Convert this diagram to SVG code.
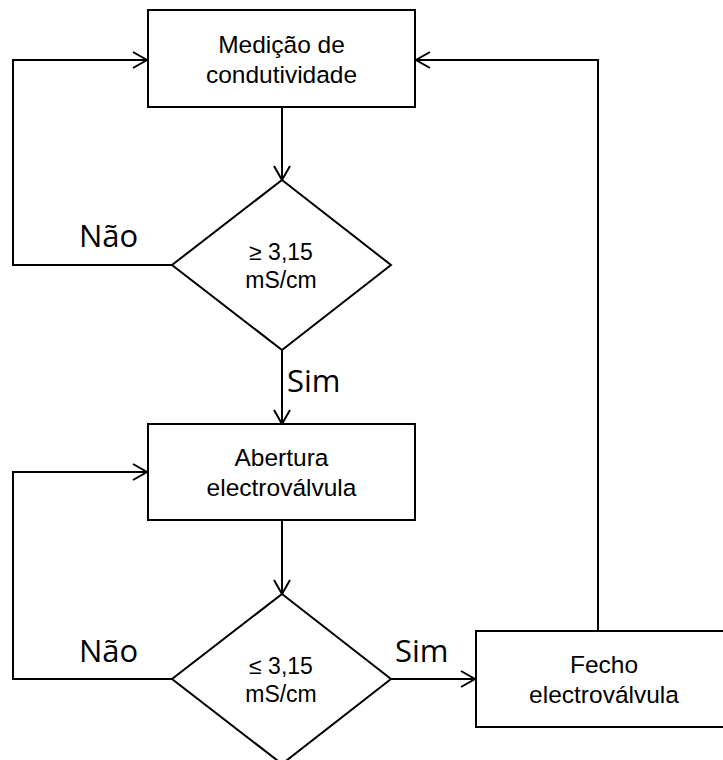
<svg xmlns="http://www.w3.org/2000/svg" width="723" height="760" viewBox="0 0 723 760">
<style>
.shape{fill:#fff;stroke:#000;stroke-width:2}
.conn{fill:none;stroke:#000;stroke-width:2}
.t{font-family:"Liberation Sans",Arial,sans-serif;font-size:24.5px;fill:#000;text-anchor:middle}
.d{font-family:"Liberation Sans",Arial,sans-serif;font-size:23px;fill:#000;text-anchor:middle}
.lbl{font-family:"Open Sans","Noto Sans",sans-serif;font-size:31px;fill:#000}
</style>
<defs>
<marker id="arr" markerUnits="userSpaceOnUse" markerWidth="20" markerHeight="20" refX="15" refY="9" orient="auto">
<polyline points="1,1 15,9 1,17" fill="none" stroke="#000" stroke-width="2"/>
</marker>
</defs>
<g id="connectors">
<line class="conn" x1="282" y1="107" x2="282" y2="180" marker-end="url(#arr)"/>
<line class="conn" x1="282" y1="350" x2="282" y2="424" marker-end="url(#arr)"/>
<line class="conn" x1="282" y1="520" x2="282" y2="594" marker-end="url(#arr)"/>
<line class="conn" x1="391" y1="679" x2="475" y2="679" marker-end="url(#arr)"/>
<polyline class="conn" points="598,631 598,60 416,60" marker-end="url(#arr)"/>
<polyline class="conn" points="172,265 13,265 13,60 147,60" marker-end="url(#arr)"/>
<polyline class="conn" points="172,679 13,679 13,472 147,472" marker-end="url(#arr)"/>
<text class="lbl" x="79" y="247">Não</text>
<text class="lbl" x="287" y="392">Sim</text>
<text class="lbl" x="79" y="662">Não</text>
<text class="lbl" x="395" y="662">Sim</text>
</g>
<g id="medicao">
<rect class="shape" x="148" y="10" width="267" height="97"/>
<text class="t" x="281.5" y="53">Medição de</text>
<text class="t" x="281.5" y="83">condutividade</text>
</g>
<g id="decisao1">
<polygon class="shape" points="282,180 391,265 282,350 172,265"/>
<text class="d" x="281" y="260">≥ 3,15</text>
<text class="d" x="281" y="288">mS/cm</text>
</g>
<g id="abertura">
<rect class="shape" x="148" y="424" width="267" height="96"/>
<text class="t" x="281.5" y="466">Abertura</text>
<text class="t" x="281.5" y="496">electroválvula</text>
</g>
<g id="decisao2">
<polygon class="shape" points="282,594 391,679 282,764 172,679"/>
<text class="d" x="281" y="674">≤ 3,15</text>
<text class="d" x="281" y="702">mS/cm</text>
</g>
<g id="fecho">
<rect class="shape" x="476" y="631" width="256" height="96"/>
<text class="t" x="604" y="673">Fecho</text>
<text class="t" x="604" y="703">electroválvula</text>
</g>
</svg>
